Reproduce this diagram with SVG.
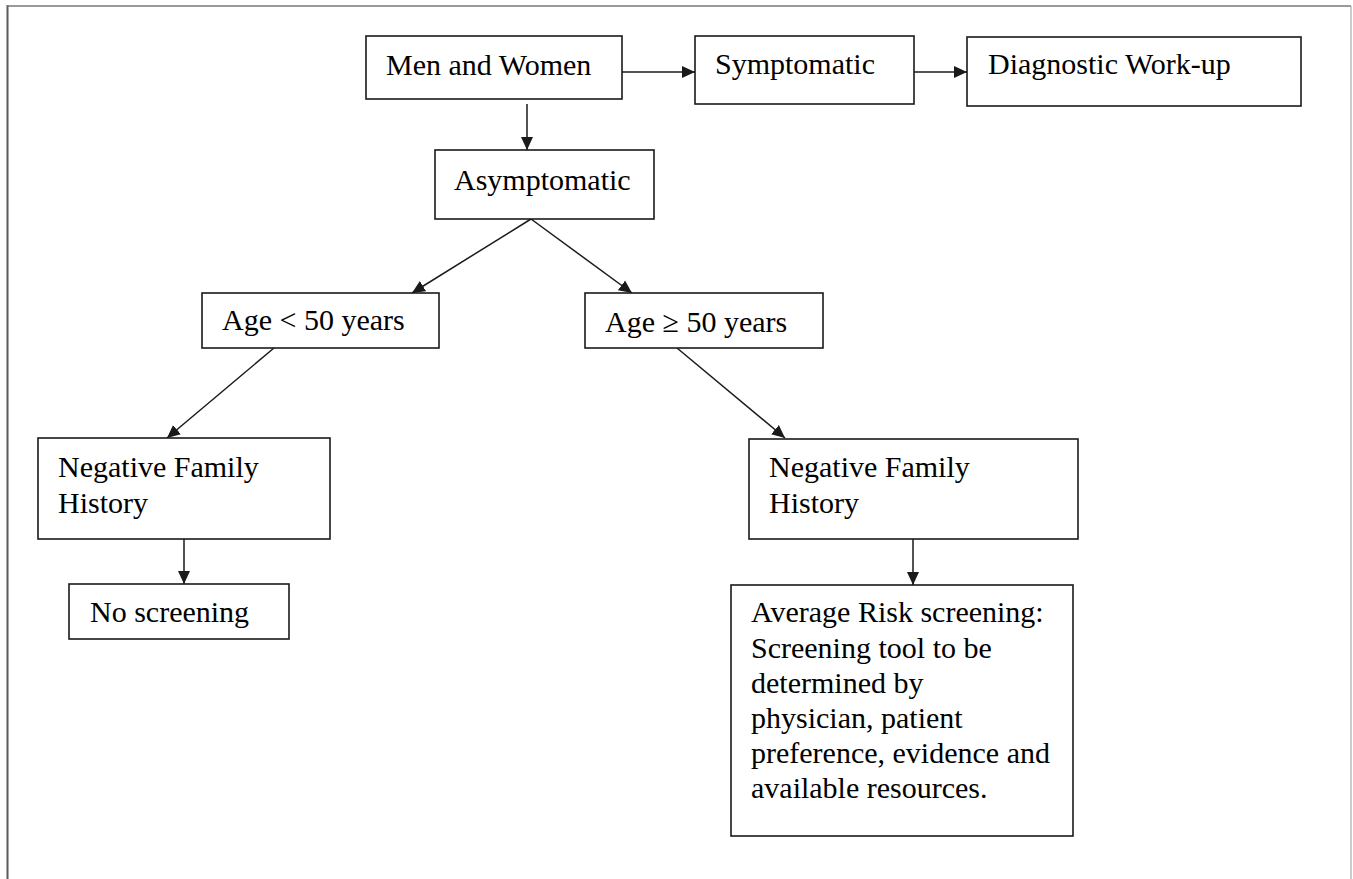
<svg xmlns="http://www.w3.org/2000/svg" width="1353" height="879" viewBox="0 0 1353 879">
<style>
.box{fill:#fff;stroke:#1a1a1a;stroke-width:1.6}
.t{font-family:"Liberation Serif","Times New Roman",serif;font-size:30px;fill:#000}
.c{stroke:#1a1a1a;stroke-width:1.5;fill:none;marker-end:url(#ah)}
</style>
<defs>
<marker id="ah" markerUnits="userSpaceOnUse" markerWidth="14" markerHeight="14" viewBox="0 0 14 14" refX="13" refY="7" orient="auto">
<path d="M0,1 L13,7 L0,13 Z" fill="#1a1a1a"/>
</marker>
</defs>
<rect width="1353" height="879" fill="#fff"/>
<g id="frame">
<line x1="7.5" y1="5" x2="7.5" y2="879" stroke="#5a5a5a" stroke-width="2"/>
<line x1="7" y1="6" x2="1351" y2="6" stroke="#777" stroke-width="1.5"/>
<line x1="1351" y1="6" x2="1351" y2="879" stroke="#aaa" stroke-width="1.2"/>
</g>
<g id="connectors">
<path class="c" d="M622,72 L695,72"/>
<path class="c" d="M914,72 L967,72"/>
<path class="c" d="M527,104 L527,150"/>
<path class="c" d="M531,219 L412,293"/>
<path class="c" d="M531,219 L632,293"/>
<path class="c" d="M274,348 L167,438"/>
<path class="c" d="M677,348 L785,438"/>
<path class="c" d="M184,539 L184,584"/>
<path class="c" d="M913,539 L913,585"/>
</g>
<g id="men-women">
<rect class="box" x="366" y="36" width="256" height="63"/>
<text class="t" x="386" y="75">Men and Women</text>
</g>
<g id="symptomatic">
<rect class="box" x="695" y="36" width="219" height="68"/>
<text class="t" x="715" y="74">Symptomatic</text>
</g>
<g id="diagnostic">
<rect class="box" x="967" y="37" width="334" height="69"/>
<text class="t" x="988" y="74">Diagnostic Work-up</text>
</g>
<g id="asymptomatic">
<rect class="box" x="435" y="150" width="219" height="69"/>
<text class="t" x="454" y="190">Asymptomatic</text>
</g>
<g id="age-under-50">
<rect class="box" x="202" y="293" width="237" height="55"/>
<text class="t" x="222" y="330">Age &lt; 50 years</text>
</g>
<g id="age-50-over">
<rect class="box" x="585" y="293" width="238" height="55"/>
<text class="t" x="605" y="332">Age ≥ 50 years</text>
</g>
<g id="nfh-left">
<rect class="box" x="38" y="438" width="292" height="101"/>
<text class="t" x="58" y="477">Negative Family</text>
<text class="t" x="58" y="513">History</text>
</g>
<g id="nfh-right">
<rect class="box" x="749" y="439" width="329" height="100"/>
<text class="t" x="769" y="477">Negative Family</text>
<text class="t" x="769" y="513">History</text>
</g>
<g id="no-screening">
<rect class="box" x="69" y="584" width="220" height="55"/>
<text class="t" x="90" y="622">No screening</text>
</g>
<g id="average-risk">
<rect class="box" x="731" y="585" width="342" height="251"/>
<text class="t" x="751" y="622">Average Risk screening:</text>
<text class="t" x="751" y="658">Screening tool to be</text>
<text class="t" x="751" y="693">determined by</text>
<text class="t" x="751" y="728">physician, patient</text>
<text class="t" x="751" y="763">preference, evidence and</text>
<text class="t" x="751" y="798">available resources.</text>
</g>
</svg>
